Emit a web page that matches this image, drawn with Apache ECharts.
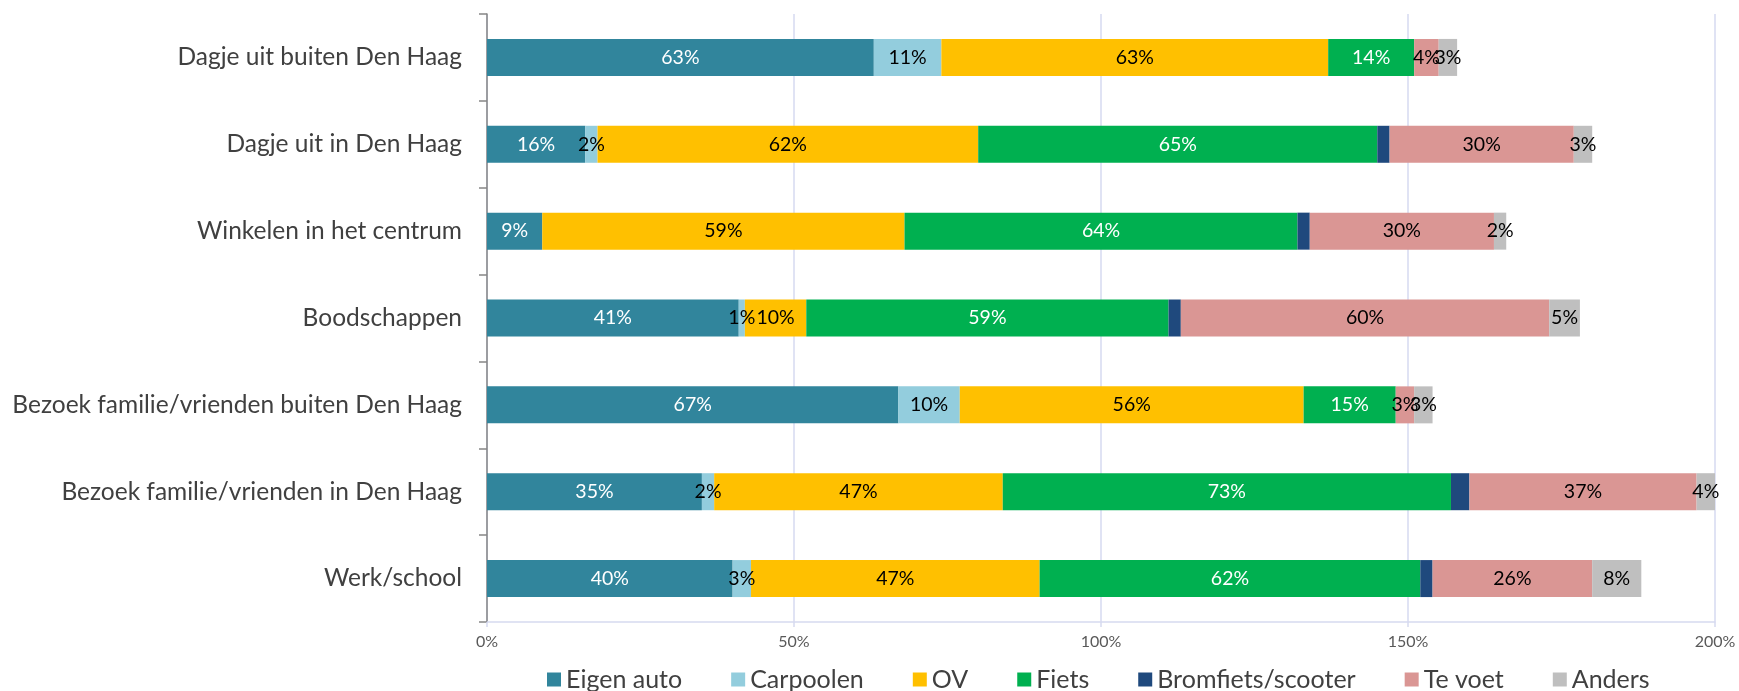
<!DOCTYPE html>
<html>
<head>
<meta charset="utf-8">
<script src="https://cdn.jsdelivr.net/npm/echarts@6/dist/echarts.min.js"></script>
<style>
  html, body { margin: 0; padding: 0; background: #fff; }
  #chart { width: 1739px; height: 691px; }
</style>
</head>
<body>
<div id="chart"></div>
<script>
// categories, top to bottom
const categories = [
  'Dagje uit buiten Den Haag',
  'Dagje uit in Den Haag',
  'Winkelen in het centrum',
  'Boodschappen',
  'Bezoek familie/vrienden buiten Den Haag',
  'Bezoek familie/vrienden in Den Haag',
  'Werk/school'
]

// percentages per mode
const eigenAuto = [63, 16, 9, 41, 67, 35, 40]
const carpoolen = [11, 2, 0, 1, 10, 2, 3]
const ov = [63, 62, 59, 10, 56, 47, 47]
const fiets = [14, 65, 64, 59, 15, 73, 62]
const bromfiets = [0, 2, 2, 2, 0, 3, 2]
const teVoet = [4, 30, 30, 60, 3, 37, 26]
const anders = [3, 3, 2, 5, 3, 4, 8]

const xTicks = [0, 50, 100, 150, 200]

const FONT = 'Lato'

function mkSeries (name, data, color, labelColor) {
  return {
    name: name,
    type: 'bar',
    stack: 'total',
    barWidth: 37,
    data: data,
    itemStyle: { color: color },
    label: {
      show: labelColor !== null,
      position: 'inside',
      color: labelColor || '#000',
      fontFamily: FONT,
      fontSize: 19.5,
      formatter: p => (p.value > 0 ? p.value + '%' : '')
    },
    emphasis: { disabled: true }
  }
}

const chart = echarts.init(document.getElementById('chart'))
chart.setOption({
  animation: false,
  textStyle: { fontFamily: FONT },
  grid: {
    left: 487,
    right: 24,
    top: 14,
    bottom: 69
  },
  legend: {
    left: 542,
    top: 662,
    itemWidth: 14,
    itemHeight: 14,
    itemGap: 49,
    icon: 'rect',
    textStyle: { fontFamily: FONT, fontSize: 25, color: '#404040' },
    selectedMode: false
  },
  xAxis: {
    type: 'value',
    min: xTicks[0],
    max: xTicks[xTicks.length - 1],
    interval: xTicks[1] - xTicks[0],
    axisLine: { show: true, lineStyle: { color: '#D6DAF0', width: 1.5 } },
    axisTick: { show: true, length: 5, lineStyle: { color: '#D6DAF0', width: 1.5 } },
    splitLine: { show: true, lineStyle: { color: '#D6DAF0', width: 1.5 } },
    axisLabel: {
      formatter: '{value}%',
      color: '#595959',
      fontFamily: FONT,
      fontSize: 16,
      margin: 12
    }
  },
  yAxis: {
    type: 'category',
    inverse: true,
    data: categories,
    axisLine: { show: true, lineStyle: { color: '#868686', width: 1.5 } },
    axisTick: { show: true, length: 8, lineStyle: { color: '#868686', width: 1.5 } },
    axisLabel: {
      color: '#404040',
      fontFamily: FONT,
      fontSize: 24.5,
      margin: 25
    }
  },
  series: [
    mkSeries('Eigen auto', eigenAuto, '#31859C', '#fff'),
    mkSeries('Carpoolen', carpoolen, '#93CDDD', '#000'),
    mkSeries('OV', ov, '#FFC000', '#000'),
    mkSeries('Fiets', fiets, '#00B050', '#fff'),
    mkSeries('Bromfiets/scooter', bromfiets, '#1F497D', null),
    mkSeries('Te voet', teVoet, '#DA9694', '#000'),
    mkSeries('Anders', anders, '#BFBFBF', '#000')
  ]
})
</script>
</body>
</html>
